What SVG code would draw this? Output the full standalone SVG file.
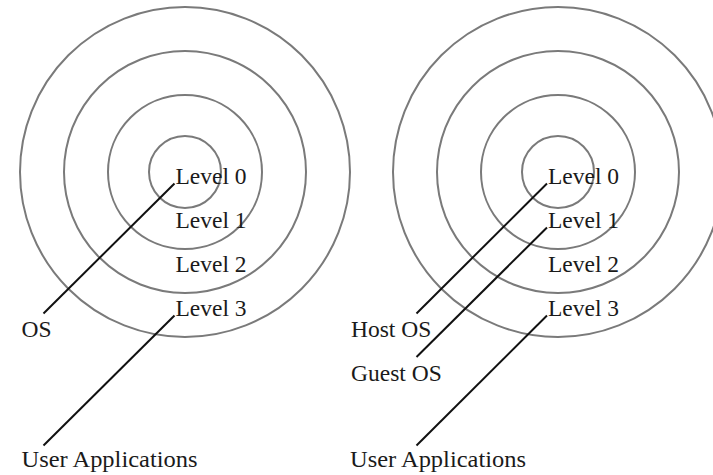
<svg xmlns="http://www.w3.org/2000/svg" width="713" height="475" viewBox="0 0 713 475">
<style>
.ring{fill:none;stroke:#7a7a7a;stroke-width:2}
.lead{stroke:#111;stroke-width:2;fill:none}
text{font-family:"Liberation Serif","Times New Roman",serif;font-size:23.5px;fill:#1a1a1a}
</style>
<rect width="713" height="475" fill="#fff"/>
<g id="rings-left">
<circle class="ring" cx="185" cy="172" r="165"/>
<circle class="ring" cx="185" cy="172" r="121"/>
<circle class="ring" cx="185" cy="172" r="77"/>
<circle class="ring" cx="185" cy="172" r="36"/>
</g>
<g id="rings-right">
<circle class="ring" cx="558" cy="172" r="165"/>
<circle class="ring" cx="558" cy="172" r="121"/>
<circle class="ring" cx="558" cy="172" r="77"/>
<circle class="ring" cx="558" cy="172" r="36"/>
</g>
<g id="connectors">
<line class="lead" x1="174.5" y1="183.5" x2="43.5" y2="313.5"/>
<line class="lead" x1="174.5" y1="315.5" x2="43.5" y2="445.5"/>
<line class="lead" x1="547" y1="183.5" x2="416.5" y2="313.5"/>
<line class="lead" x1="547" y1="227.5" x2="416.5" y2="357"/>
<line class="lead" x1="547" y1="315.5" x2="416.5" y2="445.5"/>
</g>
<g id="labels-left">
<text x="175.5" y="184">Level 0</text>
<text x="175.5" y="228">Level 1</text>
<text x="175.5" y="272">Level 2</text>
<text x="175.5" y="316">Level 3</text>
<text id="os" x="21.5" y="337">OS</text>
<text id="user-apps-left" x="21.5" y="467" textLength="176" lengthAdjust="spacingAndGlyphs">User Applications</text>
</g>
<g id="labels-right">
<text x="548" y="184">Level 0</text>
<text x="548" y="228">Level 1</text>
<text x="548" y="272">Level 2</text>
<text x="548" y="316">Level 3</text>
<text id="host-os" x="351" y="337">Host OS</text>
<text id="guest-os" x="351" y="381">Guest OS</text>
<text id="user-apps-right" x="350" y="467" textLength="176" lengthAdjust="spacingAndGlyphs">User Applications</text>
</g>
</svg>
